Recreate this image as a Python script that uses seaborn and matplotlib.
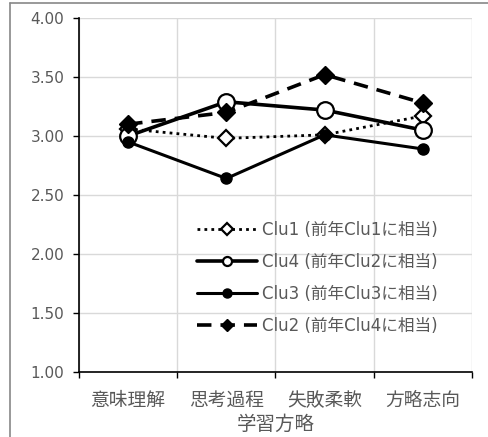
import matplotlib
matplotlib.use("Agg")
import matplotlib.pyplot as plt
from matplotlib.lines import Line2D
from matplotlib.ticker import FixedLocator, FormatStrFormatter
import seaborn as sns
import pandas as pd

categories = ["意味理解", "思考過程", "失敗柔軟", "方略志向"]
clu1 = [3.06, 2.98, 3.01, 3.17]
clu4 = [3.00, 3.29, 3.22, 3.05]
clu3 = [2.95, 2.64, 3.01, 2.89]
clu2 = [3.10, 3.20, 3.52, 3.28]
series_labels = ["Clu1 (前年Clu1に相当)", "Clu4 (前年Clu2に相当)",
                 "Clu3 (前年Clu3に相当)", "Clu2 (前年Clu4に相当)"]
x_label = "学習方略"
y_ticks = [1.0, 1.5, 2.0, 2.5, 3.0, 3.5, 4.0]

sns.set_theme(style="white")
plt.rcParams['font.family'] = ['DejaVu Sans', 'Noto Sans CJK JP']
CJK = ['Noto Sans CJK JP', 'DejaVu Sans']
TXT = "#595959"
GRID = "#d9d9d9"

W, H = 489, 437
fig = plt.figure(figsize=(W / 100, H / 100), dpi=100)
ax = fig.add_axes([79 / W, (H - 372) / H, (472 - 79) / W, (372 - 18) / H])

styles = [
    dict(linestyle=(0, (1, 1.5)), linewidth=2.0, marker="D", markersize=8,
         markerfacecolor="white", markeredgecolor="black", markeredgewidth=1.6),
    dict(linestyle="-", linewidth=2.6, marker="o", markersize=12,
         markerfacecolor="white", markeredgecolor="black", markeredgewidth=1.6),
    dict(linestyle="-", linewidth=2.2, marker="o", markersize=8,
         markerfacecolor="black", markeredgecolor="black", markeredgewidth=1),
    dict(linestyle=(0, (4, 2.5)), linewidth=2.6, marker="D", markersize=9,
         markerfacecolor="black", markeredgecolor="black", markeredgewidth=1),
]
values = [clu1, clu4, clu3, clu2]
xpos = list(range(len(categories)))
for vals, lab, st in zip(values, series_labels, styles):
    df = pd.DataFrame({"x": xpos, "v": vals})
    sns.lineplot(data=df, x="x", y="v", ax=ax, color="black", label=lab,
                 zorder=3, **st)

ax.set_xlim(-0.5, 3.5)
ax.set_ylim(1.0, 4.0)
ax.set_xticks(xpos)
ax.set_xticklabels(categories, fontsize=13.5, color=TXT, family=CJK)
ax.xaxis.set_minor_locator(FixedLocator([-0.5, 0.5, 1.5, 2.5, 3.5]))
ax.set_yticks(y_ticks)
ax.yaxis.set_major_formatter(FormatStrFormatter("%.2f"))
ax.tick_params(axis="y", which="major", length=4.5, width=1, color="black",
               labelsize=11, labelcolor=TXT, pad=6, left=True, direction="out")
ax.tick_params(axis="x", which="major", length=0, pad=13)
ax.tick_params(axis="x", which="minor", length=4, width=1, color="black",
               bottom=True, direction="out")
ax.grid(False)
ax.yaxis.grid(True, color=GRID, linewidth=1)
ax.xaxis.grid(True, which="minor", color=GRID, linewidth=1)
for s in ["top", "right"]:
    ax.spines[s].set_visible(False)
for s in ["left", "bottom"]:
    ax.spines[s].set_color("black")
    ax.spines[s].set_linewidth(1.2)
ax.set_xlabel(x_label, fontsize=14, color=TXT, labelpad=2, family=CJK)
ax.set_ylabel("")

leg = ax.legend(loc="upper left", bbox_to_anchor=((190 - 79) / (472 - 79), (372 - 214) / (372 - 18)),
                frameon=False, fontsize=12, handlelength=3.6, labelspacing=0.85,
                handletextpad=0.35, numpoints=1, borderaxespad=0)
for t in leg.get_texts():
    t.set_color(TXT)
for h in leg.legend_handles:
    h.set_markersize(6.5)

fig.add_artist(Line2D([10 / W, 10 / W], [0, (H - 3) / H], color="#888888", linewidth=1.2,
                      transform=fig.transFigure))
fig.add_artist(Line2D([10 / W, 1], [(H - 3) / H, (H - 3) / H], color="#888888", linewidth=1.2,
                      transform=fig.transFigure))

fig.savefig("out.png", dpi=100)
